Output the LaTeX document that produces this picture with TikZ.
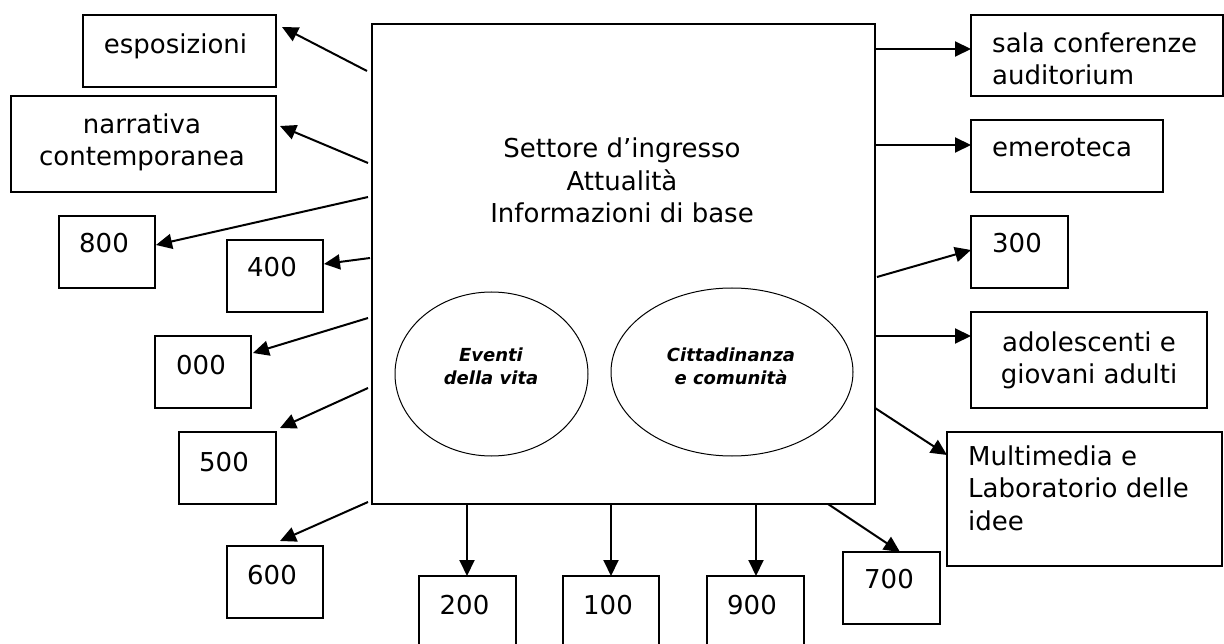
\documentclass[tikz,border=0pt]{standalone}
\usepackage{fontspec}
\setmainfont{DejaVu Sans}
\usetikzlibrary{arrows.meta}
\begin{document}
\begin{tikzpicture}[x=1pt,y=-1pt,
  box/.style={draw, line width=1.2pt, rectangle, inner sep=0pt},
  txt/.style={inner sep=0pt, font=\fontsize{26}{32.5}\selectfont},
  otxt/.style={inner sep=0pt, font=\fontsize{18}{22.5}\selectfont\bfseries\itshape},
  conn/.style={line width=2pt, -{Triangle[length=16pt,width=15pt]}}]
\useasboundingbox (0,0) rectangle (1224,644);
\begin{scope}
\clip (0,0) rectangle (1224,644);
% main box
\node[box, minimum width=503pt, minimum height=480pt] (main) at (623.5,264) {};
\node[txt, anchor=base, align=center] (maintxt) at (622,223) {Settore d’ingresso\\Attualità\\Informazioni di base};
% ellipses
\draw[line width=1pt] (491.5,374) ellipse [x radius=96.5, y radius=82];
\coordinate (ev) at (491.5,374);
\draw[line width=1pt] (732,372) ellipse [x radius=121, y radius=84];
\coordinate (ci) at (732,372);
\node[otxt, anchor=base, align=center] (evtxt) at (491,384.5) {Eventi\\della vita};
\node[otxt, anchor=base, align=center] (citxt) at (731,384.5) {Cittadinanza\\e comunità};
% left boxes
\node[box, minimum width=193pt, minimum height=72pt] (espo) at (179.5,51) {};
\node[txt, anchor=base] (espot) at (175.5,54) {esposizioni};
\node[box, minimum width=265pt, minimum height=96pt] (narr) at (143.5,144) {};
\node[txt, anchor=base, align=center] (narrt) at (142,166) {narrativa\\contemporanea};
\node[box, minimum width=96pt, minimum height=72pt] (b800) at (107,252) {};
\node[txt, anchor=base] (t800) at (104,253) {800};
\node[box, minimum width=96pt, minimum height=72pt] (b400) at (275,276) {};
\node[txt, anchor=base] (t400) at (272,277) {400};
\node[box, minimum width=96pt, minimum height=72pt] (b000) at (203,372) {};
\node[txt, anchor=base] (t000) at (201,374) {000};
\node[box, minimum width=97pt, minimum height=72pt] (b500) at (227.5,468) {};
\node[txt, anchor=base] (t500) at (224,471) {500};
\node[box, minimum width=96pt, minimum height=72pt] (b600) at (275,582) {};
\node[txt, anchor=base] (t600) at (272,584) {600};
% bottom boxes
\node[box, minimum width=97pt, minimum height=84pt] (b200) at (467.5,618) {};
\node[txt, anchor=base] (t200) at (464.5,614) {200};
\node[box, minimum width=96pt, minimum height=84pt] (b100) at (611,618) {};
\node[txt, anchor=base] (t100) at (608,614) {100};
\node[box, minimum width=97pt, minimum height=84pt] (b900) at (755.5,618) {};
\node[txt, anchor=base] (t900) at (752,614) {900};
\node[box, minimum width=97pt, minimum height=72pt] (b700) at (891.5,588) {};
\node[txt, anchor=base] (t700) at (889,588) {700};
% right boxes
\node[box, minimum width=252pt, minimum height=81pt] (sala) at (1097,55.5) {};
\node[txt, anchor=base west, align=left] (salat) at (992,85) {sala conferenze\\auditorium};
\node[box, minimum width=192pt, minimum height=72pt] (emer) at (1067,156) {};
\node[txt, anchor=base west] (emert) at (992,157) {emeroteca};
\node[box, minimum width=97pt, minimum height=72pt] (b300) at (1019.5,252) {};
\node[txt, anchor=base west] (t300) at (992,253) {300};
\node[box, minimum width=236pt, minimum height=96pt] (adol) at (1089,360) {};
\node[txt, anchor=base, align=center] (adolt) at (1089,384) {adolescenti e\\giovani adulti};
\node[box, minimum width=275pt, minimum height=134pt] (mult) at (1084.5,499) {};
\node[txt, anchor=base west, align=left] (multt) at (968,530) {Multimedia e\\Laboratorio delle\\idee};
% connector coordinates
\coordinate (sEspo) at (367,71);   \coordinate (eEspo) at (282,27);
\coordinate (sNarr) at (368,163);  \coordinate (eNarr) at (280,126);
\coordinate (s800) at (368,197);   \coordinate (e800) at (156,245);
\coordinate (s400) at (370,258);   \coordinate (e400) at (324,264);
\coordinate (s000) at (368,318);   \coordinate (e000) at (253,353);
\coordinate (s500) at (368,388);   \coordinate (e500) at (280,428);
\coordinate (s600) at (368,502);   \coordinate (e600) at (280,541);
\coordinate (s200) at (467,504);   \coordinate (e200) at (467,576);
\coordinate (s100) at (611,504);   \coordinate (e100) at (611,576);
\coordinate (s900) at (756,504);   \coordinate (e900) at (756,576);
\coordinate (s700) at (828,504);   \coordinate (e700) at (900,552);
\coordinate (sMult) at (875,408);  \coordinate (eMult) at (947,455);
\coordinate (sAdol) at (875,336);  \coordinate (eAdol) at (971,336);
\coordinate (s300) at (877,277);   \coordinate (e300) at (971,250);
\coordinate (sEmer) at (875,145);  \coordinate (eEmer) at (971,145);
\coordinate (sSala) at (875,49);   \coordinate (eSala) at (971,49);
\foreach \a in {Espo,Narr,800,400,000,500,600,200,100,900,700,Mult,Adol,300,Emer,Sala}
  \draw[conn] (s\a) -- (e\a);
\end{scope}
\end{tikzpicture}
\end{document}
